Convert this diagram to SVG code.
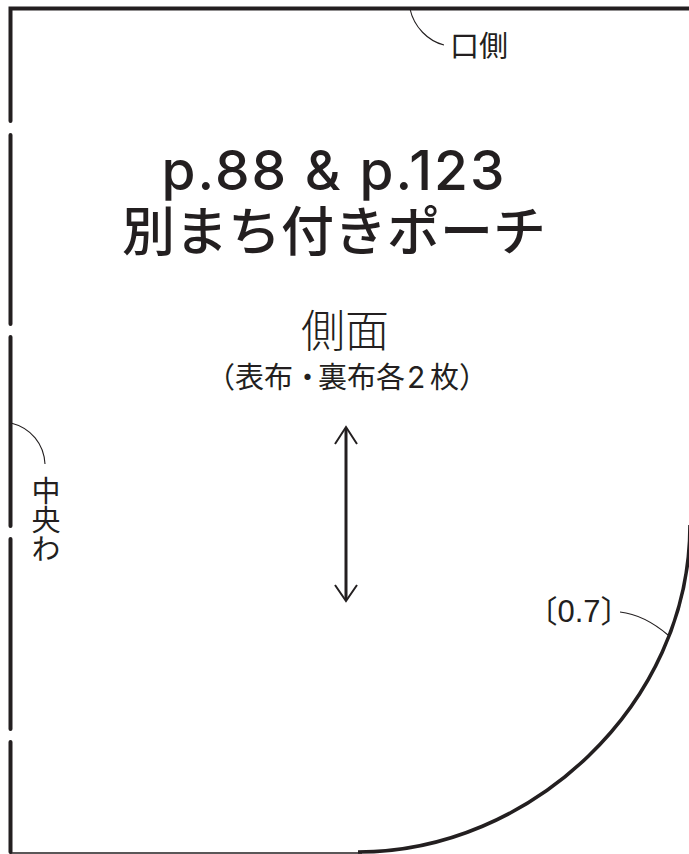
<svg xmlns="http://www.w3.org/2000/svg" width="689" height="854" viewBox="0 0 689 854">
<style>
.o{fill:none;stroke:#231f20;stroke-width:4}
.r{stroke-linecap:round}
.t{fill:none;stroke:#231f20;stroke-width:1.1}
text{font-family:"Noto Sans CJK JP","Noto Sans",sans-serif;fill:#231f20;font-weight:400}
.l{font-family:"Liberation Sans","Noto Sans CJK JP",sans-serif}
.i{font-family:Inter,"Liberation Sans",sans-serif}
.m{font-weight:500}
</style>
<rect width="689" height="854" fill="#fff"/>
<g id="outline">
<path class="o r" d="M691 8.5H10.5V121M10.5 135V324M10.5 337V526M10.5 539V729M10.5 742V852"/>
<path d="M10 853H362" fill="none" stroke="#231f20" stroke-width="1.6"/>
<path d="M358 852C530 852 690 705 690 525" fill="none" stroke="#231f20" stroke-width="3.6"/>
</g>
<g id="connectors">
<path class="t" d="M410 9C414 27 428 41 444 45"/>
<path class="t" d="M11 423C31 428 44 444 45 464"/>
<path class="t" d="M620 612C638 614 655 624 668 635"/>
<path d="M346 428V600" fill="none" stroke="#231f20" stroke-width="3"/>
<path d="M335 444L346 427L357 444M335 585L346 601L357 585" fill="none" stroke="#231f20" stroke-width="2"/>
</g>
<g id="label-mouth"><text x="450" y="57" font-size="29">口側</text></g>
<g id="label-center"><text x="46" y="476" font-size="29" style="writing-mode:vertical-rl">中央わ</text></g>
<g id="label-seam"><text x="579" y="622" font-size="31" text-anchor="middle" class="l">〔0.7〕</text></g>
<g id="title">
<text x="334" y="190" font-size="55" text-anchor="middle" class="i m" letter-spacing="2">p.88 &amp; p.123</text>
<text x="334" y="251" font-size="53" text-anchor="middle" class="m">別まち付きポーチ</text>
</g>
<g id="label-side">
<text x="345" y="347" font-size="44" text-anchor="middle" style="font-weight:300">側面</text>
<text y="388" font-size="29"><tspan x="206">（表布・</tspan><tspan x="318">裏布各</tspan><tspan x="407" class="i" font-size="30">2</tspan><tspan x="430">枚）</tspan></text>
</g>
</svg>
